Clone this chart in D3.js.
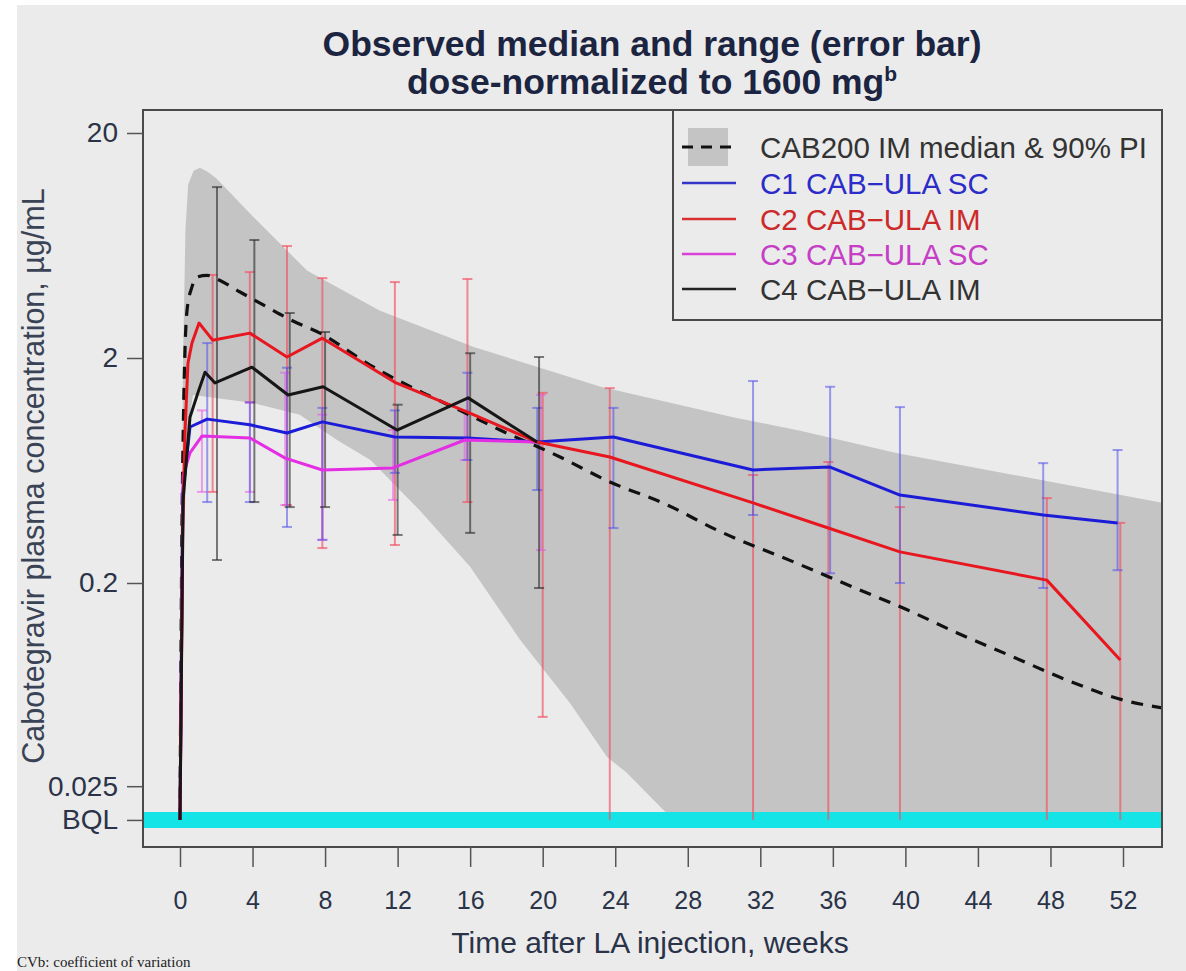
<!DOCTYPE html>
<html><head><meta charset="utf-8">
<script src="https://cdn.jsdelivr.net/npm/d3@7"></script>
<style>
html,body{margin:0;padding:0;background:#fff;}
svg{display:block;}
text{font-family:"Liberation Sans",Arial,Helvetica,sans-serif;}
</style></head><body>
<svg id="chart" width="1186" height="971"></svg>
<script>
// ---------------- DATA ----------------
const BQL = 0.0177; // plotting position of the BQL row
const xTickValues = [0,4,8,12,16,20,24,28,32,36,40,44,48,52];
const yTickValues = [20,2,0.2,0.025,BQL];
const yTickLabels = ["20","2","0.2","0.025","BQL"];

// CAB200 IM model 90% PI
const piUpperWeeks = [0,0.1,0.17,0.3,0.45,0.75,1.1,1.5,2.0,3.9,7.0,11.0,16.2,23.2,30.5,34.2,39.5,54.2];
const piUpper      = [BQL,0.3,2.0,7.4,11.8,13.6,14.0,13.5,12.6,8.7,4.9,3.25,2.24,1.49,1.09,0.95,0.757,0.454];
const piLowerWeeks = [0,0.2,0.45,0.72,3.86,6.6,8.66,10.5,13.2,16.0,18.75,21.5,23.55,24.65,27.2,54.2];
const piLower      = [BQL,0.3,1.0,1.37,1.27,1.12,0.865,0.705,0.422,0.236,0.112,0.0586,0.0337,0.0286,BQL,BQL];

// CAB200 IM model median
const cabWeeks  = [0,0.1,0.2,0.28,0.39,0.66,0.94,1.5,2.04,3.31,4.8,6.23,7.72,10.48,13.4,15.06,17.65,20.96,23.55,26.86,29.6,34.0,37.1,40.1,42.86,45.95,48.9,52.0,54.2];
const cabMedian = [BQL,0.3,1.2,2.24,3.27,4.14,4.58,4.66,4.49,3.93,3.37,2.92,2.58,1.86,1.40,1.21,0.957,0.726,0.57,0.445,0.344,0.245,0.192,0.152,0.120,0.0938,0.0741,0.0604,0.0556];

// C1 CAB-ULA SC
const c1Weeks  = [0,0.15,0.55,1.5,3.85,5.9,7.85,11.85,15.85,19.7,23.9,31.6,35.85,39.7,47.6,51.7];
const c1Median = [BQL,0.5,0.987,1.07,1.01,0.928,1.04,0.891,0.882,0.846,0.891,0.636,0.655,0.492,0.401,0.370];
const c1BarWeeks = [1.5,3.85,5.9,7.85,11.85,15.85,19.7,23.9,31.6,35.85,39.7,47.6,51.7];
const c1Low  = [0.458,0.458,0.355,0.311,0.617,0.704,0.518,0.351,0.401,0.221,0.200,0.190,0.228];
const c1High = [2.33,1.27,1.81,1.20,1.17,1.72,1.20,1.20,1.58,1.49,1.21,0.682,0.780];

// C2 CAB-ULA IM
const c2Weeks  = [0,0.15,0.28,0.44,0.66,1.05,1.8,3.85,5.9,7.85,11.85,15.85,19.7,23.7,31.6,35.75,39.7,47.8,51.85];
const c2Median = [BQL,0.35,0.957,1.9,2.33,2.86,2.40,2.58,2.02,2.45,1.56,1.15,0.846,0.726,0.454,0.351,0.275,0.206,0.0909];
const c2BarWeeks = [1.8,3.85,5.9,7.85,11.85,15.85,20.0,23.7,31.6,35.75,39.7,47.8,51.85];
const c2Low  = [0.508,1.27,0.444,0.286,0.295,0.458,0.0508,BQL,BQL,BQL,BQL,BQL,BQL];
const c2High = [4.68,4.82,6.29,4.53,4.35,4.49,1.40,1.47,0.604,0.690,0.435,0.477,0.370];

// C3 CAB-ULA SC
const c3Weeks  = [0,0.17,0.55,1.21,3.86,5.8,7.85,11.75,15.7,19.7];
const c3Median = [BQL,0.6,0.757,0.900,0.882,0.718,0.636,0.649,0.864,0.846];
const c3BarWeeks = [1.21,3.86,5.8,7.85,11.75,15.7,19.9];
const c3Low  = [0.508,0.508,0.444,0.311,0.468,0.704,0.280];
const c3High = [1.17,1.27,1.72,1.12,0.957,1.17,1.37];

// C4 CAB-ULA IM
const c4Weeks  = [0,0.17,0.55,1.0,1.38,1.93,3.97,5.96,7.89,11.97,15.89,19.69];
const c4Median = [BQL,0.468,1.09,1.41,1.73,1.55,1.82,1.37,1.49,0.957,1.33,0.846];
const c4BarWeeks = [2.04,4.1,6.05,8.0,12.0,16.0,19.8];
const c4Low  = [0.253,0.458,0.435,0.435,0.327,0.334,0.190];
const c4High = [11.5,6.69,3.17,2.61,1.24,2.10,2.02];

const legendLabels = ["CAB200 IM median & 90% PI","C1 CAB\u2212ULA SC","C2 CAB\u2212ULA IM","C3 CAB\u2212ULA SC","C4 CAB\u2212ULA IM"];

// ---------------- LAYOUT / STYLE ----------------
const svg = d3.select("#chart");
const L = 143, R = 1162, T = 110, B = 847;
const x = d3.scaleLinear().domain([0,52]).range([180,1123]);
const y = d3.scaleLog().domain([0.2,20]).range([583,133]);
const bg = "#ebebeb";
const txtCol = "#2a3348";

svg.append("rect").attr("width",1186).attr("height",971).attr("fill","#fff");
svg.append("rect").attr("x",17).attr("y",5).attr("width",1186-17).attr("height",971-5).attr("fill",bg);

svg.append("defs").append("clipPath").attr("id","plotclip")
  .append("rect").attr("x",L).attr("y",T).attr("width",R-L).attr("height",B-T);
const g = svg.append("g").attr("clip-path","url(#plotclip)");

// PI band
const pts = piUpperWeeks.map((w,i)=>[w,piUpper[i]])
  .concat(piLowerWeeks.map((w,i)=>[w,piLower[i]]).reverse());
g.append("path")
  .attr("d", d3.line().x(d=>x(d[0])).y(d=>y(d[1])).curve(d3.curveLinearClosed)(pts))
  .attr("fill","#c4c4c4");

// BQL band
g.append("line").attr("x1",L).attr("x2",R).attr("y1",y(BQL)).attr("y2",y(BQL))
  .attr("stroke","#14e4e6").attr("stroke-width",16);

// error bars
function bars(weeks, lo, hi, col){
  const gg = g.append("g").attr("stroke",col).attr("stroke-width",2).attr("fill","none");
  weeks.forEach((w,i)=>{
    const cx = x(w);
    gg.append("line").attr("x1",cx).attr("x2",cx).attr("y1",y(lo[i])).attr("y2",y(hi[i]));
    if (lo[i] > BQL) gg.append("line").attr("x1",cx-5).attr("x2",cx+5).attr("y1",y(lo[i])).attr("y2",y(lo[i]));
    gg.append("line").attr("x1",cx-5).attr("x2",cx+5).attr("y1",y(hi[i])).attr("y2",y(hi[i]));
  });
}
bars(c2BarWeeks,c2Low,c2High,"rgba(245,80,100,0.65)");
bars(c3BarWeeks,c3Low,c3High,"rgba(230,90,230,0.55)");
bars(c1BarWeeks,c1Low,c1High,"rgba(80,80,235,0.55)");
bars(c4BarWeeks,c4Low,c4High,"rgba(40,40,40,0.6)");

// model median
g.append("path")
  .attr("d", d3.line().x((d,i)=>x(cabWeeks[i])).y(d=>y(d)).curve(d3.curveMonotoneX)(cabMedian))
  .attr("fill","none").attr("stroke","#111").attr("stroke-width",3.2).attr("stroke-dasharray","12,9");

// observed medians
function med(weeks, vals, col){
  g.append("path")
    .attr("d", d3.line().x((d,i)=>x(weeks[i])).y(d=>y(d))(vals))
    .attr("fill","none").attr("stroke",col).attr("stroke-width",3).attr("stroke-linejoin","round");
}
med(c1Weeks,c1Median,"#1c1cd8");
med(c3Weeks,c3Median,"#e42ee4");
med(c2Weeks,c2Median,"#e8161e");
med(c4Weeks,c4Median,"#161616");

// box
svg.append("rect").attr("x",L).attr("y",T).attr("width",R-L).attr("height",B-T)
  .attr("fill","none").attr("stroke","#4a4a4a").attr("stroke-width",2);

// x axis
const xa = svg.append("g").attr("transform",`translate(0,${B})`)
  .call(d3.axisBottom(x).tickValues(xTickValues).tickSize(20).tickPadding(24).tickFormat(d3.format("d")));
xa.select(".domain").remove();
xa.selectAll("line").attr("stroke","#555").attr("stroke-width",1.5);
xa.selectAll("text").attr("fill",txtCol).attr("font-size",25).style("font-family",'"Liberation Sans",Arial,sans-serif');

// y axis
const ya = svg.append("g").attr("transform",`translate(${L},0)`)
  .call(d3.axisLeft(y).tickValues(yTickValues).tickSize(16).tickPadding(9).tickFormat((d,i)=>yTickLabels[i]));
ya.select(".domain").remove();
ya.selectAll("line").attr("stroke","#555").attr("stroke-width",1.5);
ya.selectAll("text").attr("fill",txtCol).attr("font-size",28).style("font-family",'"Liberation Sans",Arial,sans-serif');

// titles
const title = svg.append("text").attr("x",652).attr("text-anchor","middle")
  .attr("fill","#1b2440").attr("font-weight","bold").attr("font-size",35.5);
title.append("tspan").attr("x",652).attr("y",56).text("Observed median and range (error bar)");
title.append("tspan").attr("x",652).attr("y",94).text("dose-normalized to 1600 mg");
title.append("tspan").attr("font-size",21).attr("dy",-13).text("b");

svg.append("text").attr("x",650).attr("y",953).attr("text-anchor","middle")
  .attr("fill",txtCol).attr("font-size",30).text("Time after LA injection, weeks");
svg.append("text").attr("transform","translate(44,476) rotate(-90)").attr("text-anchor","middle")
  .attr("fill","#3a4356").attr("font-size",30.5).text("Cabotegravir plasma concentration, \u00b5g/mL");

// legend
const lg = svg.append("g");
lg.append("rect").attr("x",673).attr("y",T).attr("width",R-673).attr("height",210)
  .attr("fill",bg).attr("stroke","#4a4a4a").attr("stroke-width",2);
const rowY = [147,183,219,254,289];
const legCols = ["#333","#2c2cc8","#cc2a2a","#c53ec5","#333"];
const lineCols = ["#111","#3535c8","#d83030","#d840d8","#222"];
lg.append("rect").attr("x",688).attr("y",128).attr("width",40).attr("height",38).attr("fill","#c4c4c4");
rowY.forEach((ry,i)=>{
  lg.append("line").attr("x1",682).attr("x2",736).attr("y1",ry).attr("y2",ry)
    .attr("stroke",lineCols[i]).attr("stroke-width",i===0?3:2.5)
    .attr("stroke-dasharray",i===0?"11,8":null);
  lg.append("text").attr("x",760).attr("y",ry+10.5).attr("fill",legCols[i])
    .attr("font-size",29.5).text(legendLabels[i]);
});

// footnote
svg.append("text").attr("x",17).attr("y",967).attr("fill","#222")
  .attr("font-size",15).style("font-family",'"Liberation Serif","Times New Roman",serif')
  .text("CVb: coefficient of variation");
</script>
</body></html>
